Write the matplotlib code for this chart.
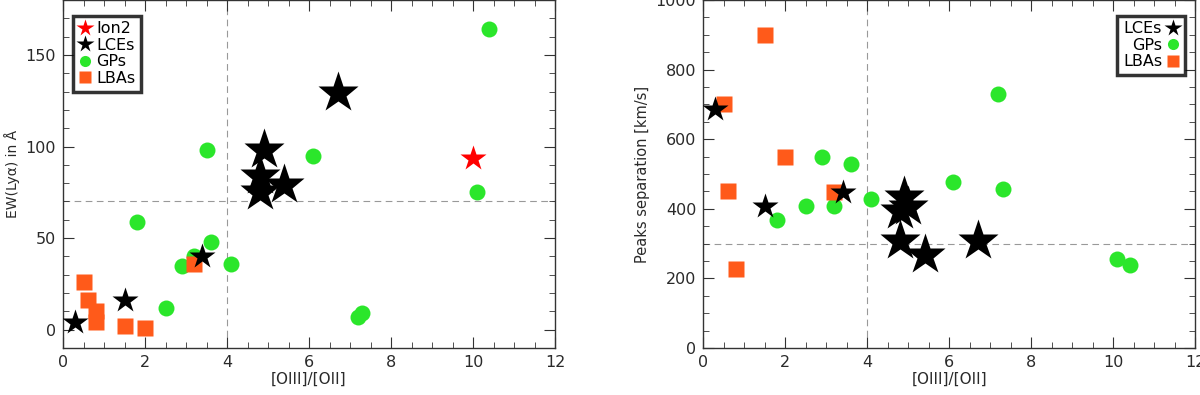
import matplotlib.pyplot as plt
from matplotlib.ticker import MultipleLocator

# ---- left panel: EW(Lya) vs [OIII]/[OII]
lba_x = [0.5, 0.6, 0.8, 0.8, 1.5, 2.0, 3.2]
lba_ew = [26, 16, 10, 4, 2, 1, 36]
gp_x = [10.4, 3.5, 6.1, 10.1, 1.8, 3.6, 3.2, 2.9, 4.1, 2.5, 7.2, 7.3]
gp_ew = [164, 98, 95, 75, 59, 48, 40, 35, 36, 12, 7, 9]
lce_small_x = [0.3, 1.5, 3.4]
lce_small_ew = [4, 16, 40]
lce_big_x = [4.9, 4.8, 4.8, 5.4, 6.7]
lce_big_ew = [98, 84, 75, 79, 129]
ion2_x = [10.0]
ion2_ew = [94]

# ---- right panel: peak separation vs [OIII]/[OII]
lba_x2 = [1.5, 0.5, 2.0, 0.6, 3.2, 0.8]
lba_sep = [900, 700, 549, 451, 449, 228]
gp_x2 = [7.2, 2.9, 3.6, 6.1, 7.3, 4.1, 2.5, 3.2, 1.8, 10.1, 10.4]
gp_sep = [729, 549, 528, 477, 458, 428, 408, 408, 368, 257, 238]
lce_small_x2 = [0.3, 1.5, 3.4]
lce_small_sep = [688, 408, 448]
lce_big_x2 = [4.9, 5.0, 4.8, 4.8, 5.4, 6.7]
lce_big_sep = [434, 405, 394, 308, 268, 308]

green = '#2BE62B'
orange = '#FF5A1A'
txt = '#2a2a2a'
plt.rcParams['font.family'] = ['DejaVu Sans']

fig = plt.figure(figsize=(12, 3.95), dpi=100)
ax1 = fig.add_axes([0.0525, 0.119, 0.41, 0.881])
ax2 = fig.add_axes([0.586, 0.119, 0.41, 0.881])


def style(ax, ymaj, ymin):
    ax.set_xlim(0, 12)
    ax.xaxis.set_major_locator(MultipleLocator(2))
    ax.xaxis.set_minor_locator(MultipleLocator(0.5))
    ax.yaxis.set_major_locator(MultipleLocator(ymaj))
    ax.yaxis.set_minor_locator(MultipleLocator(ymin))
    ax.tick_params(which='both', direction='in', top=True, right=True,
                   color='#333333', labelsize=11.5, labelcolor=txt)
    ax.tick_params(which='major', length=8, pad=5)
    ax.tick_params(which='minor', length=4)
    for s in ax.spines.values():
        s.set_color('#333333')
        s.set_linewidth(1.0)
    ax.set_xlabel('[OIII]/[OII]', fontsize=11, color=txt, labelpad=1)


# left
ax1.axvline(4, color='#999999', lw=0.8, ls=(0, (6, 4)), zorder=0)
ax1.axhline(70, color='#999999', lw=0.8, ls=(0, (6, 4)), zorder=0)
ax1.plot(gp_x, gp_ew, 'o', color=green, ms=11.5, mec='none', ls='none', zorder=2)
ax1.plot(lba_x, lba_ew, 's', color=orange, ms=11, mec='none', ls='none', zorder=3)
ax1.plot(lce_big_x, lce_big_ew, '*', color='black', ms=31, mec='none', ls='none', zorder=4)
ax1.plot(lce_small_x, lce_small_ew, '*', color='black', ms=19, mec='none', ls='none', zorder=4)
ax1.plot(ion2_x, ion2_ew, '*', color='red', ms=19, mec='none', ls='none', zorder=4)
ax1.set_ylim(-10, 180)
style(ax1, 50, 10)
ax1.set_ylabel('EW(Ly\u03b1) in \u00c5', fontsize=10, color=txt, labelpad=4)

h = [plt.Line2D([], [], marker='*', color='red', ms=13, ls='none', mec='none'),
     plt.Line2D([], [], marker='*', color='black', ms=13, ls='none', mec='none'),
     plt.Line2D([], [], marker='o', color=green, ms=8, ls='none', mec='none'),
     plt.Line2D([], [], marker='s', color=orange, ms=8, ls='none', mec='none')]
leg = ax1.legend(h, ['Ion2', 'LCEs', 'GPs', 'LBAs'], loc='upper left',
                 bbox_to_anchor=(0.02, 0.955), fontsize=11.5, frameon=True,
                 fancybox=False, handlelength=0.8, handletextpad=0.3,
                 labelspacing=0.1, borderpad=0.35, borderaxespad=0)
leg.get_frame().set_edgecolor('black')
leg.get_frame().set_linewidth(2.5)

# right
ax2.axvline(4, color='#999999', lw=0.8, ls=(0, (6, 4)), zorder=0)
ax2.axhline(300, color='#999999', lw=0.8, ls=(0, (6, 4)), zorder=0)
ax2.plot(gp_x2, gp_sep, 'o', color=green, ms=11.5, mec='none', ls='none', zorder=2)
ax2.plot(lba_x2, lba_sep, 's', color=orange, ms=11, mec='none', ls='none', zorder=3)
ax2.plot(lce_big_x2, lce_big_sep, '*', color='black', ms=31, mec='none', ls='none', zorder=4)
ax2.plot(lce_small_x2, lce_small_sep, '*', color='black', ms=19, mec='none', ls='none', zorder=4)
ax2.set_ylim(0, 1000)
style(ax2, 200, 50)
ax2.set_ylabel('Peaks separation [km/s]', fontsize=10.5, color=txt, labelpad=4)

h2 = h[1:]
leg2 = ax2.legend(h2, ['LCEs', 'GPs', 'LBAs'], loc='upper right',
                  bbox_to_anchor=(0.98, 0.955), fontsize=11.5, frameon=True,
                  fancybox=False, handlelength=0.8, handletextpad=0.3,
                  labelspacing=0.1, borderpad=0.35, borderaxespad=0,
                  markerfirst=False)
leg2.get_frame().set_edgecolor('black')
leg2.get_frame().set_linewidth(2.5)

fig.savefig('out.png', dpi=100)
